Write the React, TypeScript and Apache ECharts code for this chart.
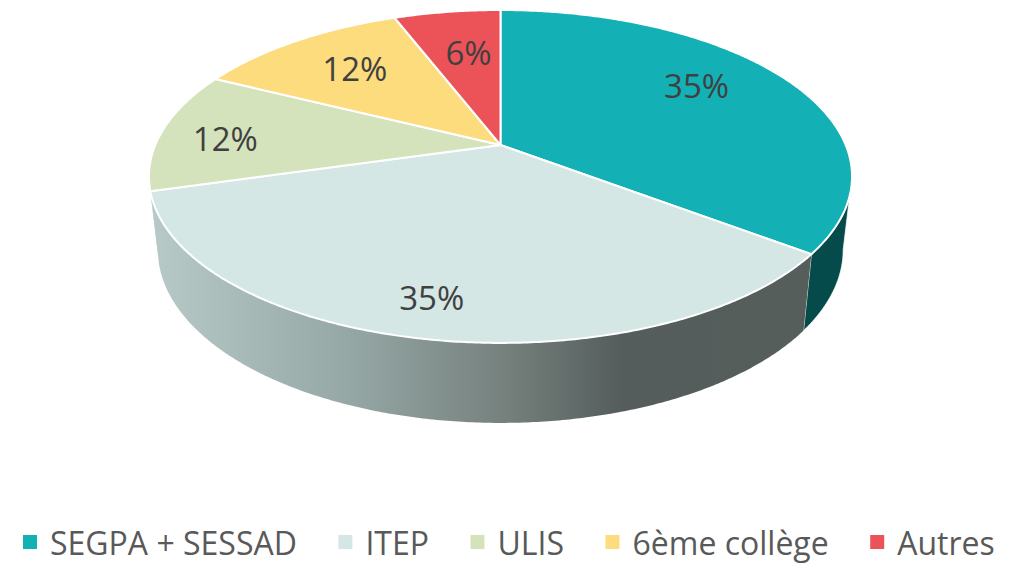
import React, { useEffect, useRef } from "react";
import * as echarts from "echarts";

const categories = ["SEGPA + SESSAD", "ITEP", "ULIS", "6ème collège", "Autres"];
const values = [6, 6, 2, 2, 1];
const percentLabels = ["35%", "35%", "12%", "12%", "6%"];
const topColors = ["#13b1b5", "#d4e7e5", "#d5e3bd", "#fcdc7c", "#ec5359"];
const labelRadius = [0.731, 0.825, 0.805, 0.697, 0.658];
const labelAngle = [56.7, 191.8, 273.1, 318.3, 350.9];

const FONT = '"Open Sans", "Noto Sans", sans-serif';
const CX = 500.5;
const K = 0.189;
const TOP = { y0: 145, a: 345.2, b: 160.5 };
const BOT = { y0: 217, a: 336.5, b: 167 };
const RIGHT_TANGENT = 100.9;
const LEFT_TANGENT = 259.1;

const total = values.reduce((s, v) => s + v, 0);
const project = (deg: number, r: number, p: typeof TOP) => {
  const t = (deg * Math.PI) / 180;
  const u = Math.sin(t) * r;
  const v = -Math.cos(t) * r;
  const w = 1 - K * v;
  return [CX + (p.a * u) / w, p.y0 + (p.b * v) / w];
};
const arc = (from: number, to: number, p: typeof TOP) => {
  const pts: number[][] = [];
  const n = Math.max(2, Math.ceil(Math.abs(to - from) * 2));
  for (let i = 0; i <= n; i++) pts.push(project(from + ((to - from) * i) / n, 1, p));
  return pts;
};
const wallFill = (i: number): any => {
  if (i === 0) return "#064b4b";
  if (i === 1)
    return new echarts.graphic.LinearGradient(
      150, 0, 805, 0,
      [
        { offset: 0, color: "#b8cac8" },
        { offset: 0.3, color: "#96a8a6" },
        { offset: 0.55, color: "#747f7c" },
        { offset: 0.72, color: "#545d5b" },
        { offset: 1, color: "#565e5c" },
      ],
      true
    );
  return "#b8cac8";
};

const renderSlice = (i: number) => () => {
  const before = values.slice(0, i).reduce((s, v) => s + v, 0);
  const start = (before / total) * 360;
  const end = ((before + values[i]) / total) * 360;
  const children: any[] = [];
  const ws = Math.max(start, RIGHT_TANGENT);
  const we = Math.min(end, LEFT_TANGENT);
  if (we > ws) {
    children.push({
      type: "polygon",
      z2: 1,
      silent: true,
      shape: { points: [...arc(ws, we, TOP), ...arc(we, ws, BOT)] },
      style: { fill: wallFill(i), stroke: "rgba(255,255,255,0.75)", lineWidth: i === 0 ? 1 : 0 },
    });
  }
  children.push({
    type: "polygon",
    z2: 5,
    silent: true,
    shape: { points: [project(0, 0, TOP), ...arc(start, end, TOP)] },
    style: { fill: topColors[i], stroke: "#ffffff", lineWidth: 2, lineJoin: "round" },
  });
  const lp = project(labelAngle[i], labelRadius[i], TOP);
  children.push({
    type: "text",
    z2: 10,
    silent: true,
    x: lp[0],
    y: lp[1],
    style: {
      text: percentLabels[i],
      fill: "#404040",
      font: `33px ${FONT}`,
      align: "center",
      verticalAlign: "middle",
    },
  });
  return { type: "group", children };
};

export default function App() {
  const ref = useRef<HTMLDivElement>(null);
  useEffect(() => {
    document.body.style.margin = "0";
    const chart = echarts.init(ref.current!, null, { renderer: "svg" });
    chart.setOption({
      animation: false,
      backgroundColor: "#ffffff",
      legend: {
        data: categories,
        top: 521,
        left: 18,
        icon: "rect",
        itemWidth: 14,
        itemHeight: 14,
        itemGap: 41.5,
        textStyle: { fontSize: 32, color: "#595959", fontFamily: FONT, padding: [0, 0, 0, 8] },
        selectedMode: false,
      },
      series: categories.map((name, i) => ({
        type: "custom",
        name,
        coordinateSystem: "none",
        silent: true,
        itemStyle: { color: topColors[i] },
        data: [values[i]],
        renderItem: renderSlice(i),
      })),
    });
    return () => chart.dispose();
  }, []);
  return <div ref={ref} style={{ width: 1018, height: 563 }} />;
}
